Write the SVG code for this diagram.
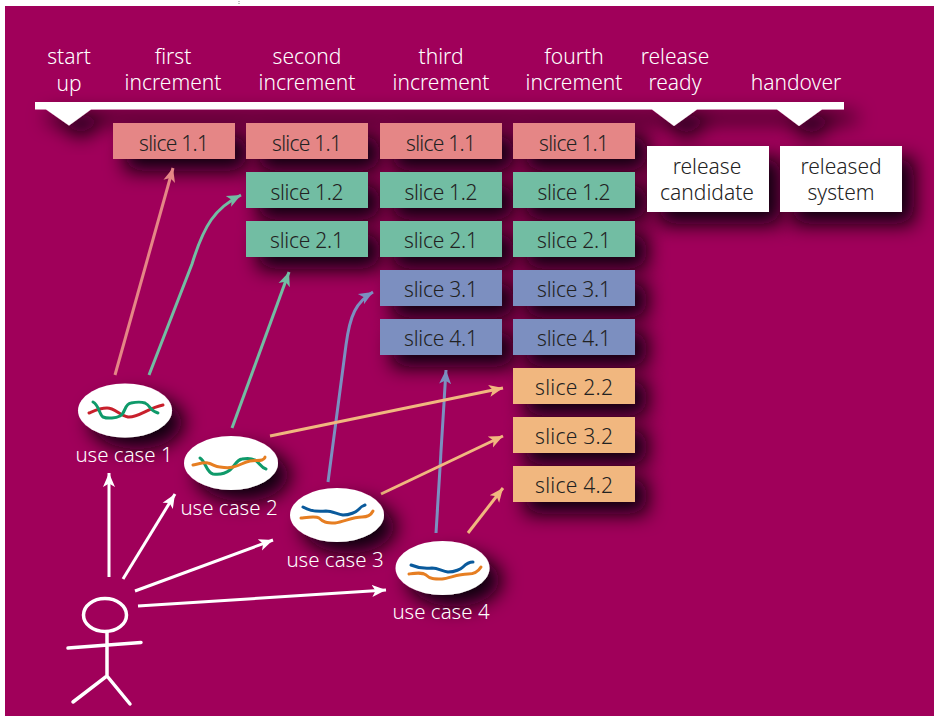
<svg xmlns="http://www.w3.org/2000/svg" width="935" height="716" viewBox="0 0 935 716">
<defs>
<filter id="shadow" x="-50%" y="-80%" width="220%" height="300%"><feDropShadow dx="12" dy="12" stdDeviation="10" flood-color="#0e0008" flood-opacity="1"/></filter>
<marker id="aw" markerUnits="userSpaceOnUse" markerWidth="16" markerHeight="16" viewBox="0 0 16 14" refX="14" refY="7" orient="auto"><path d="M0 1L14 7L0 13L3.5 7z" fill="#fff"/></marker>
<marker id="ar" markerUnits="userSpaceOnUse" markerWidth="16" markerHeight="16" viewBox="0 0 16 14" refX="14" refY="7" orient="auto"><path d="M0 1L14 7L0 13L3.5 7z" fill="#e58686"/></marker>
<marker id="ag" markerUnits="userSpaceOnUse" markerWidth="16" markerHeight="16" viewBox="0 0 16 14" refX="14" refY="7" orient="auto"><path d="M0 1L14 7L0 13L3.5 7z" fill="#72bda3"/></marker>
<marker id="ab" markerUnits="userSpaceOnUse" markerWidth="16" markerHeight="16" viewBox="0 0 16 14" refX="14" refY="7" orient="auto"><path d="M0 1L14 7L0 13L3.5 7z" fill="#7b8fc0"/></marker>
<marker id="ao" markerUnits="userSpaceOnUse" markerWidth="16" markerHeight="16" viewBox="0 0 16 14" refX="14" refY="7" orient="auto"><path d="M0 1L14 7L0 13L3.5 7z" fill="#f1b77f"/></marker>
</defs>
<style>
text{font-family:"Noto Sans","Open Sans",sans-serif;font-size:21px;font-weight:300;text-anchor:middle}
.h{fill:#fff}
.d{fill:#222}
.s{font-size:20.5px}
.r{fill:#e58686}.g{fill:#72bda3}.b{fill:#7b8fc0}.o{fill:#f1b77f}.w{fill:#fff}
.c{fill:none;stroke-width:3}
.cw{stroke:#fff}.cr{stroke:#e58686}.cg{stroke:#72bda3}.cb{stroke:#7b8fc0}.co{stroke:#f1b77f}
.sq{fill:none;stroke-width:3;stroke-linecap:round;stroke-linejoin:round}
.fig{fill:none;stroke:#fff;stroke-width:3.5;stroke-linecap:round}
</style>
<rect width="935" height="716" fill="#fff"/>
<path d="M239 1v4" stroke="#888" stroke-dasharray="1 1" fill="none"/>
<rect x="5" y="6" width="929" height="710" fill="#a0005a"/>

<g id="timeline">
<path d="M35 102H844V109.500H822L799 126L777 109.500H697L674 126L652 109.500H91L69 125.500L46 109.500H35z" fill="#fff" filter="url(#shadow)"/>
</g>
<g id="phase-labels">
<text class="h" x="69" y="64">start</text><text class="h" x="69" y="91">up</text>
<text class="h" x="173" y="64">first</text><text class="h" x="173" y="90">increment</text>
<text class="h" x="307" y="64">second</text><text class="h" x="307" y="90">increment</text>
<text class="h" x="441" y="64">third</text><text class="h" x="441" y="90">increment</text>
<text class="h" x="574" y="64">fourth</text><text class="h" x="574" y="90">increment</text>
<text class="h" x="675" y="64">release</text><text class="h" x="675" y="90">ready</text>
<text class="h" x="796" y="90">handover</text>
</g>

<g id="col1-s11"><rect class="r" x="113" y="123" width="122" height="36" filter="url(#shadow)"/><text class="d" x="174" y="151" textLength="70">slice 1.1</text></g>
<g id="col2-s11"><rect class="r" x="246" y="123" width="122" height="36" filter="url(#shadow)"/><text class="d" x="307" y="151" textLength="70">slice 1.1</text></g>
<g id="col3-s11"><rect class="r" x="380" y="123" width="122" height="36" filter="url(#shadow)"/><text class="d" x="441" y="151" textLength="70">slice 1.1</text></g>
<g id="col4-s11"><rect class="r" x="513" y="123" width="122" height="36" filter="url(#shadow)"/><text class="d" x="574" y="151" textLength="70">slice 1.1</text></g>
<g id="col2-s12"><rect class="g" x="246" y="172" width="122" height="36" filter="url(#shadow)"/><text class="d" x="307" y="200" textLength="73">slice 1.2</text></g>
<g id="col3-s12"><rect class="g" x="380" y="172" width="122" height="36" filter="url(#shadow)"/><text class="d" x="441" y="200" textLength="73">slice 1.2</text></g>
<g id="col4-s12"><rect class="g" x="513" y="172" width="122" height="36" filter="url(#shadow)"/><text class="d" x="574" y="200" textLength="73">slice 1.2</text></g>
<g id="col2-s21"><rect class="g" x="246" y="221" width="122" height="36" filter="url(#shadow)"/><text class="d" x="307" y="248" textLength="74">slice 2.1</text></g>
<g id="col3-s21"><rect class="g" x="380" y="221" width="122" height="36" filter="url(#shadow)"/><text class="d" x="441" y="248" textLength="74">slice 2.1</text></g>
<g id="col4-s21"><rect class="g" x="513" y="221" width="122" height="36" filter="url(#shadow)"/><text class="d" x="574" y="248" textLength="74">slice 2.1</text></g>
<g id="col3-s31"><rect class="b" x="380" y="270" width="122" height="36" filter="url(#shadow)"/><text class="d" x="441" y="297" textLength="74">slice 3.1</text></g>
<g id="col4-s31"><rect class="b" x="513" y="270" width="122" height="36" filter="url(#shadow)"/><text class="d" x="574" y="297" textLength="74">slice 3.1</text></g>
<g id="col3-s41"><rect class="b" x="380" y="319" width="122" height="36" filter="url(#shadow)"/><text class="d" x="441" y="346" textLength="74">slice 4.1</text></g>
<g id="col4-s41"><rect class="b" x="513" y="319" width="122" height="36" filter="url(#shadow)"/><text class="d" x="574" y="346" textLength="74">slice 4.1</text></g>
<g id="col4-s22"><rect class="o" x="513" y="368" width="122" height="36" filter="url(#shadow)"/><text class="d" x="574" y="395" textLength="78">slice 2.2</text></g>
<g id="col4-s32"><rect class="o" x="513" y="417" width="122" height="36" filter="url(#shadow)"/><text class="d" x="574" y="444" textLength="78">slice 3.2</text></g>
<g id="col4-s42"><rect class="o" x="513" y="466" width="122" height="36" filter="url(#shadow)"/><text class="d" x="574" y="493" textLength="78">slice 4.2</text></g>

<g id="release-candidate"><rect class="w" x="647" y="146" width="122" height="66" filter="url(#shadow)"/><text class="d" x="707" y="174">release</text><text class="d" x="707" y="200">candidate</text></g>
<g id="released-system"><rect class="w" x="780" y="146" width="122" height="66" filter="url(#shadow)"/><text class="d" x="841" y="174">released</text><text class="d" x="841" y="200">system</text></g>

<g id="connectors">
<path class="c cr" d="M115 375L173 168" marker-end="url(#ar)"/>
<path class="c cg" d="M149 375L192 264C204 225 215 208 241 195" marker-end="url(#ag)"/>
<path class="c cg" d="M232 428L289 272" marker-end="url(#ag)"/>
<path class="c cb" d="M328 482L346 345C350 315 356 302 373 292" marker-end="url(#ab)"/>
<path class="c cb" d="M436 533L446 370" marker-end="url(#ab)"/>
<path class="c co" d="M270 436L503 388" marker-end="url(#ao)"/>
<path class="c co" d="M381 494L503 436" marker-end="url(#ao)"/>
<path class="c co" d="M468 533L503 488" marker-end="url(#ao)"/>
<path class="c cw" d="M109 577V473" marker-end="url(#aw)"/>
<path class="c cw" d="M123 579L175 494" marker-end="url(#aw)"/>
<path class="c cw" d="M135 591L273 540" marker-end="url(#aw)"/>
<path class="c cw" d="M138 606L386 590" marker-end="url(#aw)"/>
</g>

<g id="use-case-1"><ellipse class="w" cx="125" cy="410.500" rx="47" ry="27" filter="url(#shadow)"/>
<path class="sq" stroke="#c8202c" d="M89 413C96 410 100 408 107 408C115 408 119 415 128 417C138 418 148 408 163 405"/>
<path class="sq" stroke="#0f9a6a" d="M93 402C99 405 99 414 103 417C108 419 116 418 120 416C126 413 124 404 131 403C136 402 142 402 145 403C151 406 150 411 158 413"/>
<text class="h s" x="124" y="462">use case 1</text></g>
<g id="use-case-2"><ellipse class="w" cx="231" cy="463" rx="47" ry="27" filter="url(#shadow)"/>
<path class="sq" stroke="#0f9a6a" d="M200 458C206 462 206 472 213 474C219 475 226 473 230 470C236 465 236 460 242 459C247 458 251 458 255 460C260 463 261 468 266 469"/>
<path class="sq" stroke="#e67e22" d="M193 465C198 464 204 462 208 463C213 464 215 467 220 467C226 468 230 468 233 467C239 466 244 462 250 461C255 460 259 461 262 460C264 459 265 458 265 457"/>
<text class="h s" x="229" y="515">use case 2</text></g>
<g id="use-case-3"><ellipse class="w" cx="337" cy="515" rx="47" ry="27" filter="url(#shadow)"/>
<path class="sq" stroke="#0a5a9c" d="M303 507C310 511 318 512 326 511C332 511 337 514 343 515C350 515 356 512 358 510C362 506 362 506 365 505"/>
<path class="sq" stroke="#e67e22" d="M301 518C310 517 316 516 319 518C323 522 326 523 335 523C344 522 352 517 362 517C368 517 371 515 373 511"/>
<text class="h s" x="335" y="567">use case 3</text></g>
<g id="use-case-4"><ellipse class="w" cx="442.500" cy="568" rx="47" ry="27" filter="url(#shadow)"/>
<path class="sq" stroke="#0a5a9c" d="M411 565C418 568 424 569 432 568C438 568 442 571 448 572C455 572 461 569 463 567C467 563 469 562 473 562"/>
<path class="sq" stroke="#e67e22" d="M409 574C416 573 422 572 426 575C430 579 434 579 442 579C450 578 458 574 468 574C474 574 478 572 481 567"/>
<text class="h s" x="441" y="619">use case 4</text></g>

<g id="actor">
<ellipse class="fig" cx="105" cy="615" rx="21.500" ry="16.500"/>
<path class="fig" d="M68 648L141 642.500M107 632V676L73 702M107 676L130 704"/>
</g>
</svg>
